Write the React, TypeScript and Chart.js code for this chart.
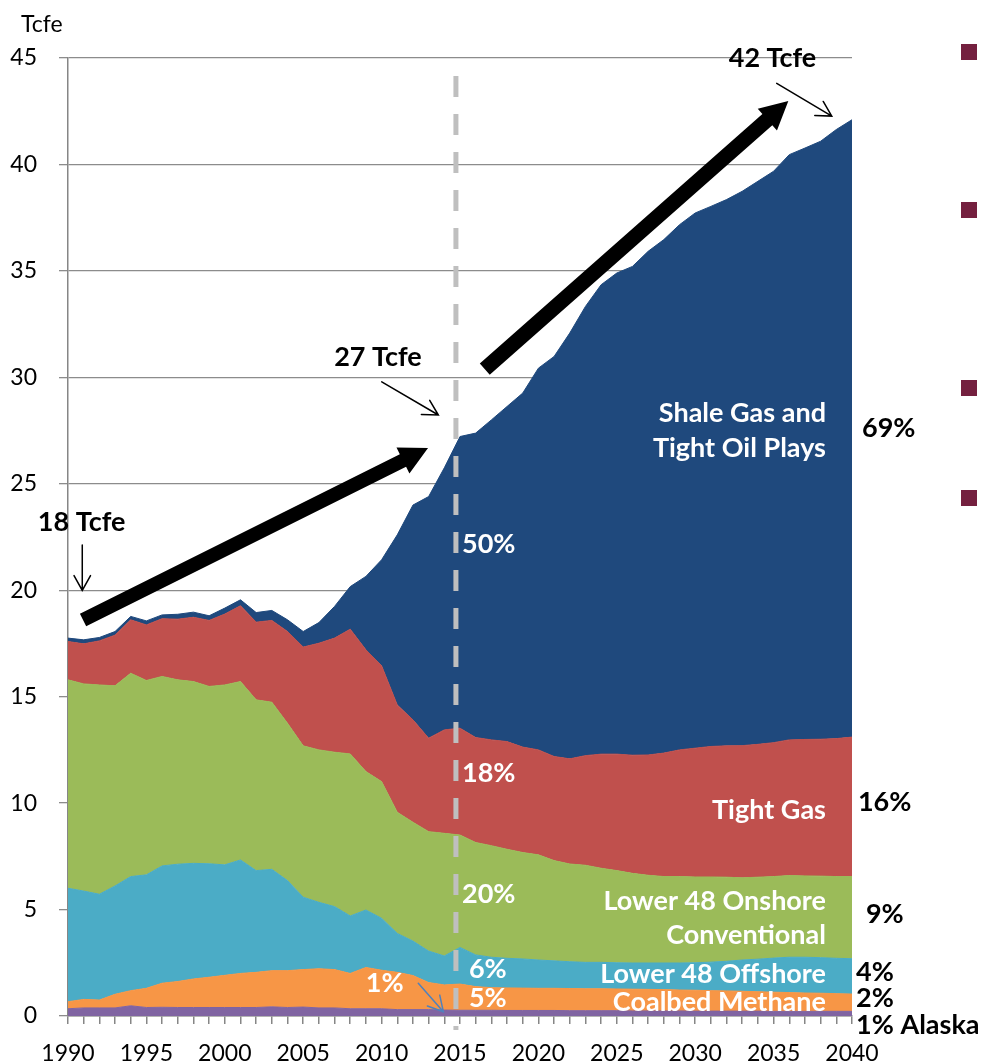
import React, { useEffect, useRef } from 'react';
import { Chart, registerables } from 'chart.js';

Chart.register(...registerables);

const years = [
  '1990','1991','1992','1993','1994','1995','1996','1997','1998','1999',
  '2000','2001','2002','2003','2004','2005','2006','2007','2008','2009',
  '2010','2011','2012','2013','2014','2015','2016','2017','2018','2019',
  '2020','2021','2022','2023','2024','2025','2026','2027','2028','2029',
  '2030','2031','2032','2033','2034','2035','2036','2037','2038','2039','2040',
];

const alaska = [
  0.34,0.38,0.38,0.38,0.48,0.40,0.41,0.40,0.40,0.40,0.40,0.40,0.40,0.43,0.40,0.42,0.38,0.38,0.34,0.34,
  0.34,0.30,0.30,0.30,0.28,0.27,0.27,0.27,0.26,0.26,0.26,0.26,0.25,0.25,0.25,0.25,0.24,0.24,0.24,0.24,
  0.23,0.23,0.23,0.23,0.23,0.22,0.22,0.22,0.22,0.22,0.22,
];
const coalbedMethane = [
  0.33,0.40,0.37,0.64,0.71,0.90,1.13,1.22,1.34,1.42,1.51,1.60,1.65,1.70,1.73,1.76,1.84,1.80,1.66,1.94,
  1.81,1.75,1.60,1.27,1.18,1.23,1.11,1.06,1.06,1.05,1.04,1.04,1.04,1.03,1.03,1.02,1.02,1.01,1.00,0.98,
  0.98,0.96,0.95,0.93,0.91,0.90,0.88,0.86,0.85,0.83,0.81,
];
const lower48Offshore = [
  5.33,5.09,4.97,5.09,5.36,5.33,5.51,5.51,5.43,5.33,5.19,5.33,4.78,4.76,4.23,3.40,3.12,2.96,2.70,2.70,
  2.44,1.83,1.62,1.48,1.36,1.72,1.49,1.43,1.39,1.37,1.33,1.29,1.26,1.24,1.24,1.23,1.23,1.24,1.25,1.27,
  1.29,1.34,1.39,1.47,1.53,1.60,1.66,1.68,1.67,1.66,1.66,
];
const lower48Onshore = [
  9.79,9.73,9.83,9.40,9.55,9.13,8.90,8.66,8.54,8.33,8.45,8.38,8.02,7.85,7.39,7.11,7.16,7.25,7.61,6.50,
  6.42,5.69,5.58,5.61,5.76,5.28,5.28,5.24,5.12,5.00,4.94,4.71,4.59,4.56,4.42,4.33,4.21,4.12,4.06,4.06,
  4.03,4.00,3.95,3.86,3.85,3.83,3.84,3.82,3.83,3.84,3.86,
];
const tightGas = [
  1.80,1.88,2.07,2.38,2.51,2.61,2.71,2.85,3.02,3.10,3.33,3.56,3.65,3.84,4.31,4.64,5.01,5.36,5.86,5.72,
  5.44,5.04,4.81,4.39,4.86,5.02,4.93,4.97,5.06,4.95,4.93,4.89,4.94,5.15,5.36,5.47,5.55,5.65,5.80,5.95,
  6.05,6.13,6.17,6.21,6.24,6.29,6.37,6.41,6.43,6.48,6.55,
];
const shaleTightOil = [
  0.16,0.19,0.16,0.17,0.16,0.19,0.18,0.23,0.24,0.22,0.28,0.28,0.45,0.47,0.55,0.73,0.97,1.49,2.00,3.45,
  4.98,7.99,10.09,11.35,12.31,13.70,14.30,15.03,15.74,16.63,17.93,18.79,20.00,21.10,22.05,22.60,22.96,23.66,24.12,24.67,
  25.14,25.37,25.66,26.04,26.45,26.84,27.49,27.78,28.09,28.61,29.00,
];

const seriesNames = ['Alaska', 'Coalbed Methane', 'Lower 48 Offshore', 'Lower 48 Onshore Conventional', 'Tight Gas', 'Shale Gas and Tight Oil Plays'];
const seriesColors = ['#8064A2', '#F79646', '#4BACC6', '#9BBB59', '#C0504D', '#1F497D'];
const yTicks = [0, 5, 10, 15, 20, 25, 30, 35, 40, 45];

// Annotations in data units: [year, value]
const whiteLabels: [string, number, number, 'left' | 'right'][] = [
  ['Shale Gas and', 2038.34, 28.37, 'right'],
  ['Tight Oil Plays', 2038.34, 26.70, 'right'],
  ['50%', 2015.13, 22.20, 'left'],
  ['18%', 2015.13, 11.46, 'left'],
  ['Tight Gas', 2038.34, 9.72, 'right'],
  ['20%', 2015.13, 5.78, 'left'],
  ['Lower 48 Onshore', 2038.34, 5.45, 'right'],
  ['Conventional', 2038.34, 3.85, 'right'],
  ['6%', 2015.57, 2.25, 'left'],
  ['Lower 48 Offshore', 2038.34, 2.02, 'right'],
  ['5%', 2015.57, 0.87, 'left'],
  ['Coalbed Methane', 2038.34, 0.70, 'right'],
  ['1%', 2008.99, 1.57, 'left'],
];
const blackLabels: [string, number, number, 'left' | 'center'][] = [
  ['69%', 2040.64, 27.67, 'left'],
  ['16%', 2040.38, 10.10, 'left'],
  ['9%', 2040.89, 4.84, 'left'],
  ['4%', 2040.26, 2.08, 'left'],
  ['2%', 2040.26, 0.87, 'left'],
  ['1% Alaska', 2040.26, -0.40, 'left'],
  ['18 Tcfe', 1990.87, 23.25, 'center'],
  ['27 Tcfe', 2009.77, 31.0, 'center'],
  ['42 Tcfe', 2034.93, 45.02, 'center'],
];
const thinArrows: [number, number, number, number, string][] = [
  [1990.91, 22.13, 1990.91, 19.99, '#000000'],
  [2010.01, 29.79, 2013.62, 28.23, '#000000'],
  [2035.2, 43.81, 2038.71, 42.27, '#000000'],
  [2012.34, 1.54, 2013.94, 0.20, '#4F81BD'],
];
const thickArrows: [number, number, number, number, number][] = [
  [1990.96, 18.6, 2012.96, 26.68, 14],
  [2016.58, 30.38, 2035.94, 42.98, 15],
];
const dashedLine = { year: 2014.74, from: 44.15, to: -0.66 };

const FONT = 'Lato, "Open Sans", sans-serif';

function drawThick(ctx: CanvasRenderingContext2D, x1: number, y1: number, x2: number, y2: number, w: number) {
  const ang = Math.atan2(y2 - y1, x2 - x1);
  const len = Math.hypot(x2 - x1, y2 - y1);
  const hl = 28, hw = 29;
  ctx.save();
  ctx.translate(x1, y1);
  ctx.rotate(ang);
  ctx.fillStyle = '#000';
  ctx.beginPath();
  ctx.moveTo(0, -w / 2);
  ctx.lineTo(len - hl, -w / 2);
  ctx.lineTo(len - hl, -hw / 2);
  ctx.lineTo(len, 0);
  ctx.lineTo(len - hl, hw / 2);
  ctx.lineTo(len - hl, w / 2);
  ctx.lineTo(0, w / 2);
  ctx.closePath();
  ctx.fill();
  ctx.restore();
}

function drawThin(ctx: CanvasRenderingContext2D, x1: number, y1: number, x2: number, y2: number, color: string) {
  const ang = Math.atan2(y2 - y1, x2 - x1);
  const hl = 17, a = (29 * Math.PI) / 180;
  ctx.save();
  ctx.strokeStyle = color;
  ctx.lineWidth = 1.5;
  ctx.lineCap = 'round';
  ctx.beginPath();
  ctx.moveTo(x1, y1);
  ctx.lineTo(x2, y2);
  ctx.moveTo(x2 - hl * Math.cos(ang - a), y2 - hl * Math.sin(ang - a));
  ctx.lineTo(x2, y2);
  ctx.lineTo(x2 - hl * Math.cos(ang + a), y2 - hl * Math.sin(ang + a));
  ctx.stroke();
  ctx.restore();
}

const annotationPlugin = {
  id: 'annotations',
  afterDraw(chart: any) {
    const ctx: CanvasRenderingContext2D = chart.ctx;
    const xs = chart.scales.x;
    const ys = chart.scales.y;
    const X = (yr: number) => xs.getPixelForValue(yr - 1990);
    const Y = (v: number) => ys.getPixelForValue(v);

    // dashed 2015 line
    ctx.save();
    ctx.strokeStyle = '#BFBFBF';
    ctx.lineWidth = 5;
    ctx.setLineDash([21, 17]);
    ctx.beginPath();
    ctx.moveTo(X(dashedLine.year), Y(dashedLine.from));
    ctx.lineTo(X(dashedLine.year), Y(dashedLine.to));
    ctx.stroke();
    ctx.restore();

    const size = 27;
    ctx.save();
    ctx.font = `bold ${size}px ${FONT}`;
    ctx.textBaseline = 'alphabetic';
    ctx.fillStyle = '#FFFFFF';
    for (const [t, yr, v, align] of whiteLabels) {
      ctx.textAlign = align;
      ctx.fillText(t, X(yr), Y(v) + size * 0.36);
    }
    ctx.fillStyle = '#000000';
    for (const [t, yr, v, align] of blackLabels) {
      ctx.textAlign = align;
      ctx.fillText(t, X(yr), Y(v) + size * 0.36);
    }
    ctx.restore();

    for (const [x1, y1, x2, y2, c] of thinArrows) {
      drawThin(ctx, X(x1), Y(y1), X(x2), Y(y2), c);
    }
    for (const [x1, y1, x2, y2, w] of thickArrows) {
      drawThick(ctx, X(x1), Y(y1), X(x2), Y(y2), w);
    }

    // axis unit title
    ctx.save();
    ctx.font = `23px ${FONT}`;
    ctx.fillStyle = '#000';
    ctx.textAlign = 'left';
    ctx.textBaseline = 'alphabetic';
    ctx.fillText('Tcfe', 21, 32);
    ctx.restore();
  },
};

export default function App() {
  const ref = useRef<HTMLCanvasElement | null>(null);
  useEffect(() => {
    if (!ref.current) return;
    const data = [alaska, coalbedMethane, lower48Offshore, lower48Onshore, tightGas, shaleTightOil];
    const chart = new Chart(ref.current, {
      type: 'line',
      data: {
        labels: years,
        datasets: data.map((d, i) => ({
          label: seriesNames[i],
          data: d,
          backgroundColor: seriesColors[i],
          borderColor: seriesColors[i],
          borderWidth: 1,
          pointRadius: 0,
          tension: 0,
          fill: i === 0 ? 'origin' : '-1',
        })),
      },
      options: {
        animation: false,
        responsive: false,
        maintainAspectRatio: false,
        layout: { padding: { left: 0, right: 131, top: 58, bottom: 0 } },
        plugins: { legend: { display: false }, tooltip: { enabled: false } },
        scales: {
          x: {
            grid: { drawOnChartArea: false, drawTicks: true, tickLength: 8, color: '#868686', lineWidth: 1.5 },
            border: { color: '#868686', width: 1.5 },
            ticks: {
              autoSkip: false,
              maxRotation: 0,
              minRotation: 0,
              padding: 16,
              color: '#000',
              font: { family: FONT, size: 23 },
              callback: (_v: any, i: number) => (Number(years[i]) % 5 === 0 ? years[i] : ''),
            },
            afterFit: (s: any) => { s.height = 46; },
          },
          y: {
            stacked: true,
            min: 0,
            max: 45,
            afterBuildTicks: (s: any) => { s.ticks = yTicks.map((v) => ({ value: v })); },
            grid: { color: '#8C8C8C', lineWidth: 1.3, tickLength: 9 },
            border: { color: '#868686', width: 1.5 },
            ticks: { padding: 22, color: '#000', font: { family: FONT, size: 23 } },
            afterFit: (s: any) => { s.width = 68; },
          },
        },
      },
      plugins: [annotationPlugin],
    });
    return () => chart.destroy();
  }, []);

  const squares = [44, 202, 380, 490];
  return (
    <div style={{ position: 'absolute', left: 0, top: 0, width: 983, height: 1062, background: '#fff' }}>
      <canvas ref={ref} width={983} height={1062} style={{ position: 'absolute', left: 0, top: 0, width: 983, height: 1062 }} />
      {squares.map((t) => (
        <div key={t} style={{ position: 'absolute', left: 961, top: t, width: 16, height: 16, background: '#74203F' }} />
      ))}
    </div>
  );
}
